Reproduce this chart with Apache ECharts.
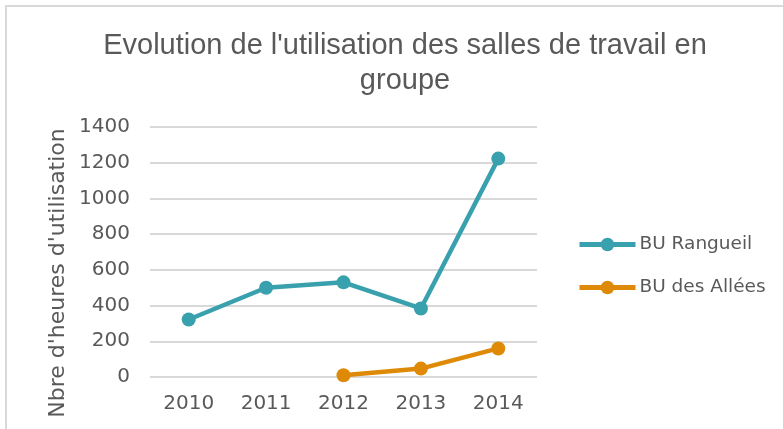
<!DOCTYPE html>
<html>
<head>
<meta charset="utf-8">
<script src="https://cdn.jsdelivr.net/npm/echarts@6/dist/echarts.min.js"></script>
<style>html,body{margin:0;padding:0;background:#fff}#c{width:783px;height:429px}</style>
</head>
<body>
<div id="c"></div>
<script>
const categories = ['2010', '2011', '2012', '2013', '2014'];
const rangueil = [322, 500, 530, 384, 1223];
const allees = [null, null, 10, 47, 160];
const seriesNames = ['BU Rangueil', 'BU des Allées'];
const titleText = "Evolution de l'utilisation des salles de travail en\ngroupe";
const yAxisName = "Nbre d'heures d'utilisation";

const chart = echarts.init(document.getElementById('c'));
const font = 'DejaVu Sans';
chart.setOption({
  animation: false,
  title: {
    text: titleText,
    left: 400, top: 23, textAlign: 'center',
    textStyle: { fontFamily: 'Liberation Sans', fontSize: 29, fontWeight: 'normal', color: '#595959', lineHeight: 35 }
  },
  grid: { left: 150, right: 246, top: 127, bottom: 52 },
  xAxis: {
    type: 'category', data: categories, boundaryGap: true,
    axisLine: { show: false }, axisTick: { show: false },
    axisLabel: { fontFamily: font, fontSize: 20, color: '#595959', margin: 17 }
  },
  yAxis: {
    type: 'value', min: 0, max: 1400, interval: 200,
    axisLine: { show: false }, axisTick: { show: false },
    axisLabel: { fontFamily: font, fontSize: 20, color: '#595959', margin: 20, formatter: v => String(v) },
    splitLine: { lineStyle: { color: '#d9d9d9', width: 2 } }
  },
  legend: {
    orient: 'vertical', left: 577, top: 235, padding: 0,
    itemWidth: 56, itemHeight: 17, itemGap: 24,
    lineStyle: { width: 5 },
    textStyle: { fontFamily: font, fontSize: 18.5, color: '#595959', padding: [0,0,0,-1] },
    data: seriesNames
  },
  graphic: [
    { type: 'text', x: 58, y: 273, rotation: Math.PI / 2,
      style: { text: yAxisName, fontFamily: font, fontSize: 22, fill: '#595959', align: 'center', verticalAlign: 'middle' } },
    { type: 'polyline', shape: { points: [[6, 429], [6, 6], [783, 6]] },
      style: { stroke: '#d9d9d9', lineWidth: 2, fill: null } }
  ],
  series: [
    { name: seriesNames[0], type: 'line', data: rangueil, symbol: 'circle', symbolSize: 14,
      lineStyle: { width: 4.5, color: '#39a1ad' }, itemStyle: { color: '#39a1ad' } },
    { name: seriesNames[1], type: 'line', data: allees, symbol: 'circle', symbolSize: 14,
      lineStyle: { width: 4.5, color: '#de8a06' }, itemStyle: { color: '#de8a06' } }
  ]
});
</script>
</body>
</html>
